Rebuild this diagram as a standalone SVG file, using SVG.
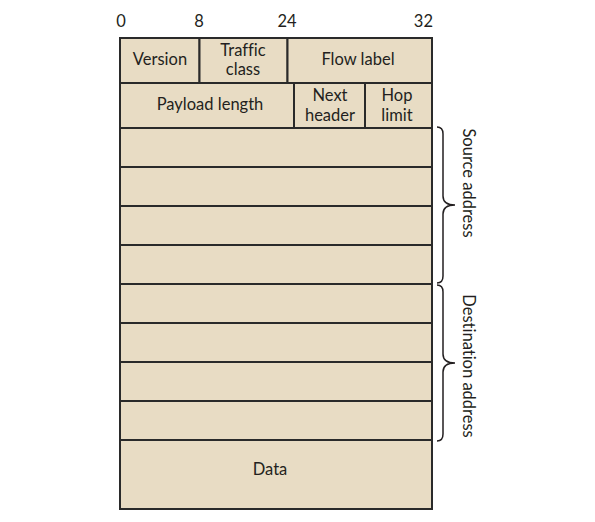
<svg xmlns="http://www.w3.org/2000/svg" width="595" height="522" viewBox="0 0 595 522">
<style>
.c{fill:#e8dcc4;stroke:#2a2a2a;stroke-width:2}
text{font-family:Lato,"Liberation Sans",sans-serif;font-size:16.5px;fill:#231f20;font-variant-ligatures:none}
.m{text-anchor:middle}
.b{fill:none;stroke:#231f20;stroke-width:1.5}
</style>
<rect width="595" height="522" fill="#fff"/>
<g id="scale">
<text x="121" y="27" class="m">0</text>
<text x="199" y="27" class="m">8</text>
<text x="287" y="27" class="m">24</text>
<text x="433" y="27" text-anchor="end">32</text>
</g>
<g id="version"><rect class="c" x="120" y="38" width="79.5" height="45"/><text x="160" y="65" class="m">Version</text></g>
<g id="traffic"><rect class="c" x="199.5" y="38" width="88" height="45"/><text x="243" y="56" class="m">Traffic</text><text x="243" y="75" class="m">class</text></g>
<g id="flow"><rect class="c" x="287.5" y="38" width="144.5" height="45"/><text x="358" y="65" class="m">Flow label</text></g>
<g id="payload"><rect class="c" x="120" y="83" width="174" height="45"/><text x="210" y="110" class="m">Payload length</text></g>
<g id="next"><rect class="c" x="294" y="83" width="71" height="45"/><text x="330" y="101" class="m">Next</text><text x="330" y="121" class="m">header</text></g>
<g id="hop"><rect class="c" x="365" y="83" width="67" height="45"/><text x="397" y="101" class="m">Hop</text><text x="397" y="121" class="m">limit</text></g>
<g id="src">
<rect class="c" x="120" y="128" width="312" height="39"/>
<rect class="c" x="120" y="167" width="312" height="39"/>
<rect class="c" x="120" y="206" width="312" height="39"/>
<rect class="c" x="120" y="245" width="312" height="39"/>
</g>
<g id="dst">
<rect class="c" x="120" y="284" width="312" height="39"/>
<rect class="c" x="120" y="323" width="312" height="39"/>
<rect class="c" x="120" y="362" width="312" height="39"/>
<rect class="c" x="120" y="401" width="312" height="39"/>
</g>
<g id="data"><rect class="c" x="120" y="440" width="312" height="69"/><text x="270" y="475" class="m">Data</text></g>
<g id="braces">
<path class="b" d="M437,127 Q443,127 443,134 L443,196 Q443,205 455,205 Q443,205 443,214 L443,276 Q443,283 437,283"/>
<path class="b" d="M437,285 Q443,285 443,292 L443,354 Q443,363 455,363 Q443,363 443,372 L443,434 Q443,441 437,441"/>
</g>
<g id="labels">
<text class="m" transform="translate(463,183) rotate(90)">Source address</text>
<text class="m" transform="translate(463,366) rotate(90)">Destination address</text>
</g>
</svg>
